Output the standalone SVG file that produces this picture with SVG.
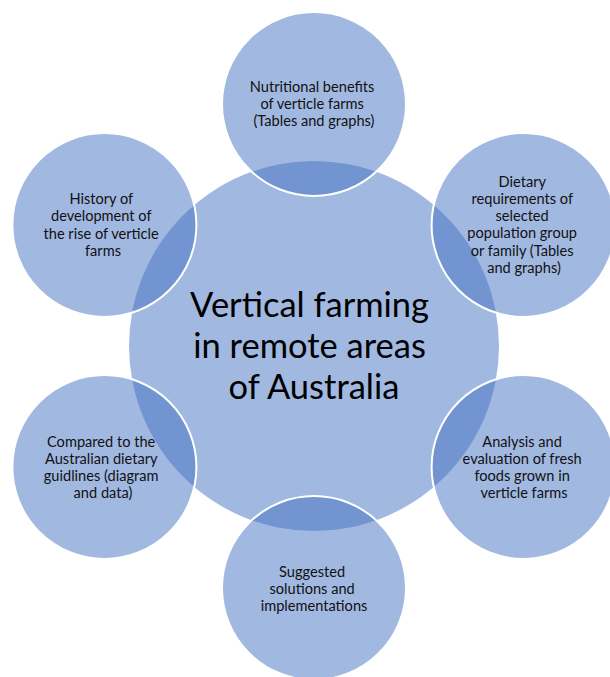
<svg xmlns="http://www.w3.org/2000/svg" width="610" height="677" viewBox="0 0 610 677">
  <style>
    .disc { fill: #4472c4; fill-opacity: 0.5; }
    .sat { stroke: #ffffff; stroke-width: 2; }
    .lbl { font-family: Lato, "Liberation Sans", sans-serif; font-size: 14.6px; fill: #111111; text-anchor: middle; }
    .hub { font-family: Lato, "Liberation Sans", sans-serif; font-size: 34.5px; fill: #000000; text-anchor: middle; }
  </style>
  <rect width="610" height="677" fill="#ffffff"/>

  <!-- central topic -->
  <g id="hub">
    <circle class="disc" cx="314" cy="346" r="185"/>
    <text class="hub">
      <tspan x="314" y="317">Vertical farming</tspan>
      <tspan x="314" y="358">in remote areas</tspan>
      <tspan x="314" y="399">of Australia</tspan>
    </text>
  </g>

  <!-- surrounding topics -->
  <g id="node-nutrition">
    <circle class="disc sat" cx="314" cy="104" r="92"/>
    <text class="lbl">
      <tspan x="314" y="92">Nutritional benefits</tspan>
      <tspan x="314" y="109">of verticle farms</tspan>
      <tspan x="314" y="126">(Tables and graphs)</tspan>
    </text>
  </g>

  <g id="node-dietary">
    <circle class="disc sat" cx="523.6" cy="225" r="92"/>
    <text class="lbl">
      <tspan x="524" y="186.5">Dietary</tspan>
      <tspan x="524" y="203.8">requirements of</tspan>
      <tspan x="524" y="221.1">selected</tspan>
      <tspan x="524" y="238.4">population group</tspan>
      <tspan x="524" y="255.7">or family (Tables</tspan>
      <tspan x="524" y="273">and graphs)</tspan>
    </text>
  </g>

  <g id="node-analysis">
    <circle class="disc sat" cx="523.6" cy="467" r="92"/>
    <text class="lbl">
      <tspan x="524" y="446.5">Analysis and</tspan>
      <tspan x="524" y="463.8">evaluation of fresh</tspan>
      <tspan x="524" y="481.1">foods grown in</tspan>
      <tspan x="524" y="498.4">verticle farms</tspan>
    </text>
  </g>

  <g id="node-solutions">
    <circle class="disc sat" cx="314" cy="588" r="92"/>
    <text class="lbl">
      <tspan x="314" y="577">Suggested</tspan>
      <tspan x="314" y="594">solutions and</tspan>
      <tspan x="314" y="611">implementations</tspan>
    </text>
  </g>

  <g id="node-guidelines">
    <circle class="disc sat" cx="104.4" cy="467" r="92"/>
    <text class="lbl">
      <tspan x="103" y="446.5">Compared to the</tspan>
      <tspan x="103" y="463.8">Australian dietary</tspan>
      <tspan x="103" y="481.1">guidlines (diagram</tspan>
      <tspan x="103" y="498.4">and data)</tspan>
    </text>
  </g>

  <g id="node-history">
    <circle class="disc sat" cx="104.4" cy="225" r="92"/>
    <text class="lbl">
      <tspan x="103" y="204">History of</tspan>
      <tspan x="103" y="221.3">development of</tspan>
      <tspan x="103" y="238.6">the rise of verticle</tspan>
      <tspan x="103" y="255.9">farms</tspan>
    </text>
  </g>

  <!-- the topics touch the hub directly; no connector lines are drawn -->
  <g id="connectors"/>
</svg>
